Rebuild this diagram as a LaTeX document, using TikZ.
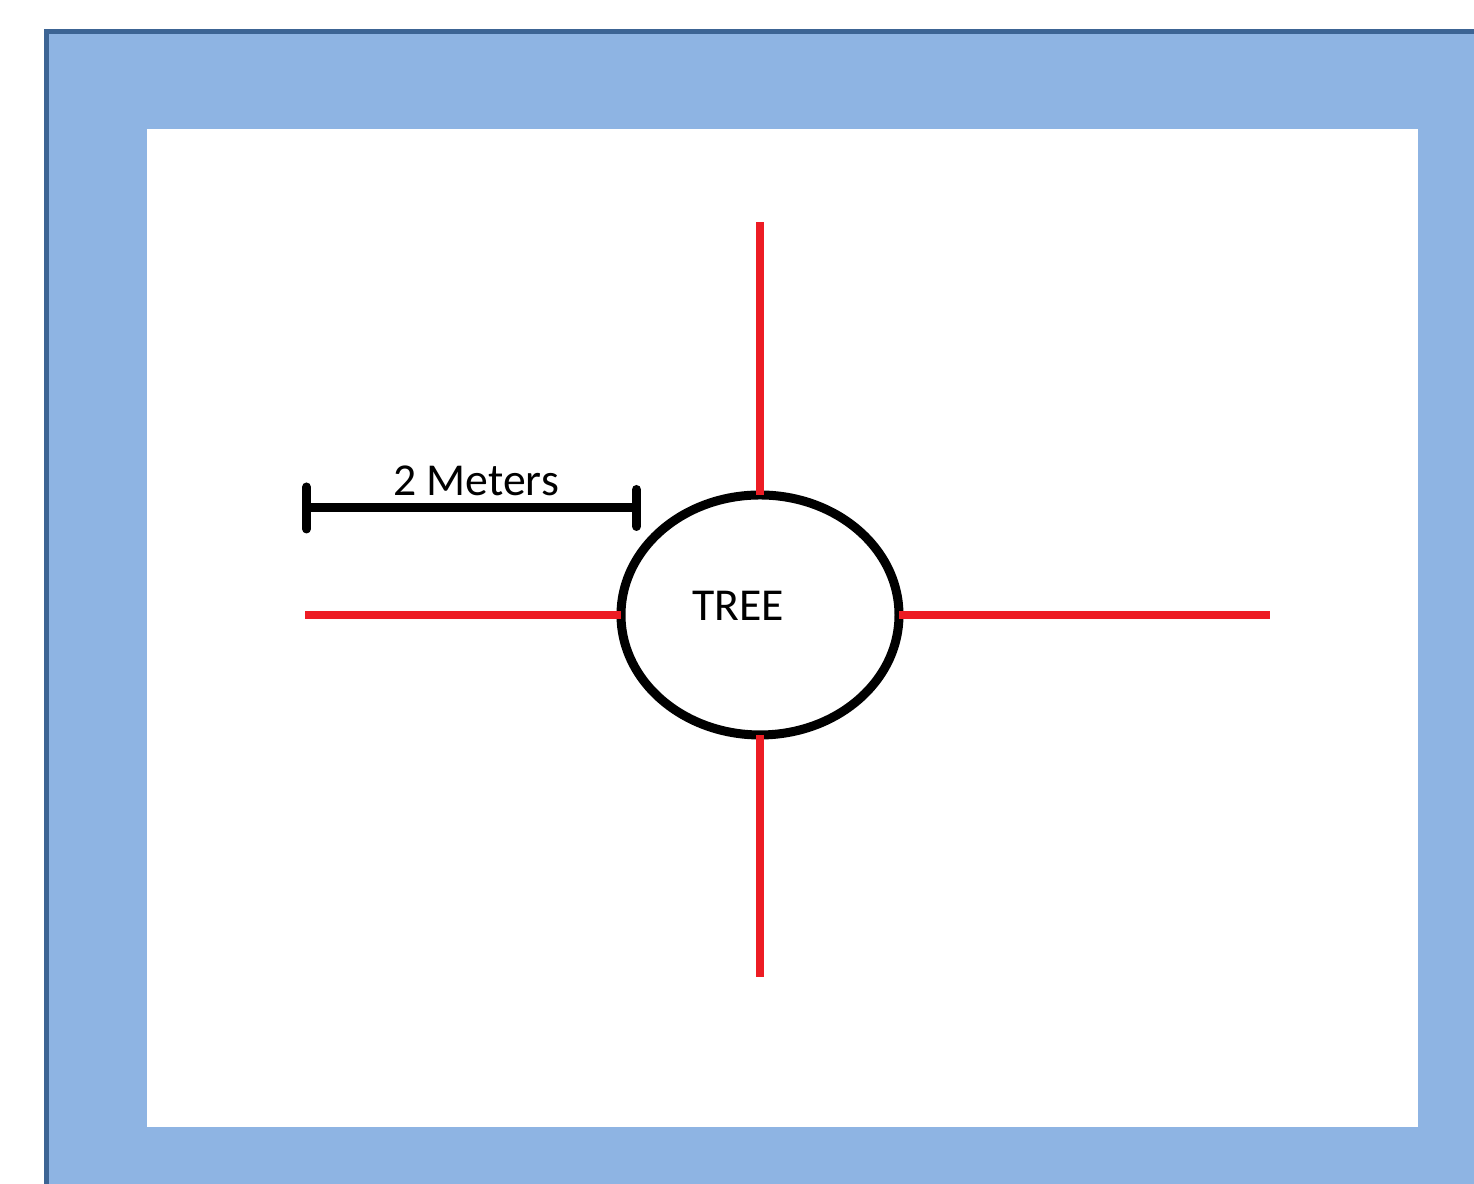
\documentclass[tikz,border=0pt]{standalone}
\usepackage{fontspec}
\setmainfont{Carlito}
\usetikzlibrary{shapes.geometric,arrows.meta}
\definecolor{framefill}{RGB}{142,180,227}
\definecolor{frameline}{RGB}{60,100,148}
\definecolor{linered}{RGB}{237,28,36}
\tikzset{
  redline/.style={draw=linered, line width=0.085cm},
  treebox/.style={ellipse, draw=black, line width=0.09cm, fill=white,
    minimum width=2.78cm, minimum height=2.40cm, inner sep=0pt, outer sep=0pt},
  plaintext/.style={font=\fontsize{13}{15}\selectfont, inner sep=0pt}
}
\begin{document}
\begin{tikzpicture}
            \useasboundingbox (0,0) rectangle (14.74,11.84);
            % Draw frame
            \filldraw[fill=framefill, draw=frameline, line width=0.05cm] (0.465,-0.50) -- (0.465,11.525) -- (15.50,11.525);
            \fill[framefill] (0.49,-0.50) rectangle (15.50,11.50);
            \fill[white] (1.47,0.57) rectangle (14.18,10.55);
            % Add tree
            \node[treebox] (tree) at (7.60,5.69) {};
            \node[plaintext] (treetext) at (7.38,5.78) {TREE};
            % Draw red lines out of the tree
            \coordinate (ntop) at (7.60,9.62);
            \coordinate (nbottom) at (7.60,2.07);
            \coordinate (nleft) at (3.05,5.69);
            \coordinate (nright) at (12.70,5.69);
            \draw[redline] (tree.north) -- (ntop);
            \draw[redline] (tree.south) -- (nbottom);
            \draw[redline] (tree.west) -- (nleft);
            \draw[redline] (tree.east) -- (nright);
            % Draw scale bar
            \coordinate (barleft) at (3.02,6.76);
            \coordinate (barright) at (6.41,6.76);
            \draw[black, line width=0.09cm, {Bar[width=0.42cm,line cap=round]}-{Bar[width=0.37cm,line cap=round]}] (barleft) -- (barright);
            \node[plaintext] (bartext) at (4.76,7.03) {2 Meters};
        \end{tikzpicture}
\end{document}
